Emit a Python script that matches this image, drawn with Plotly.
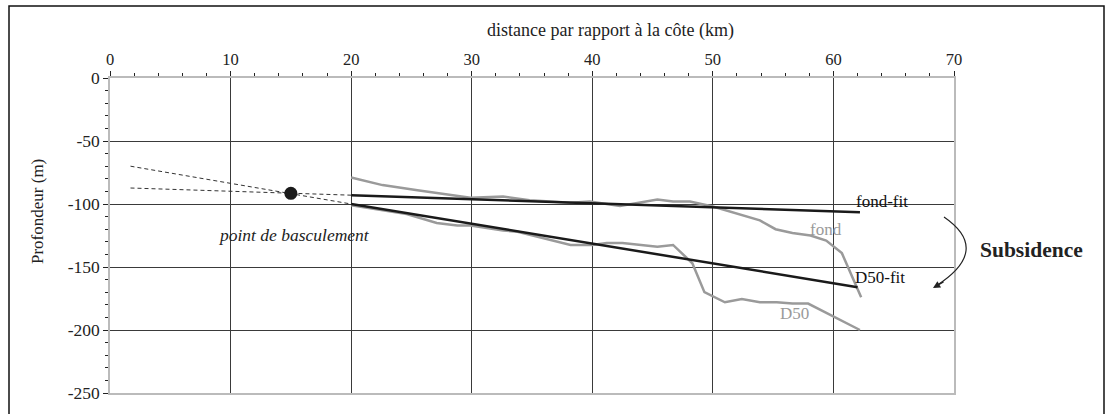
import plotly.graph_objects as go

# ---- data ----
fond_x = [20, 22.6, 25.5, 29.9, 32.6, 34.8, 38.2, 39.8, 42.3, 44, 45.4, 46.7, 48.1, 50, 53.9, 55.2, 56.6, 58.1, 59.4, 60.7, 62.3]
fond_y = [-79, -85, -89, -95, -94, -97, -99, -98, -101.5, -99, -96.5, -98, -98, -102, -113, -120, -123, -125, -129, -139, -174]

d50_x = [20, 22.6, 24.6, 27.1, 28.8, 29.9, 32.6, 33.8, 38.2, 40.0, 41.2, 42.5, 45.4, 46.7, 48.3, 49.3, 51, 52.4, 53.9, 55.3, 56.6, 57.9, 62.2]
d50_y = [-101, -105, -108, -115, -117, -117, -121, -122, -132.5, -132.5, -131, -131, -134, -132.5, -147, -170, -178, -175.5, -178, -178, -179, -179, -200]

fondfit_x = [20, 62.2]
fondfit_y = [-93, -106.6]
d50fit_x = [20, 62]
d50fit_y = [-100, -166]

dash1_x = [1.7, 20]
dash1_y = [-70, -100]
dash2_x = [1.7, 20]
dash2_y = [-87.3, -93]

pivot_x = [15]
pivot_y = [-91.5]

x_ticks = [0, 10, 20, 30, 40, 50, 60, 70]
y_ticks = [0, -50, -100, -150, -200, -250]
y_ticktext = ["0", "-50", "-100", "-150", "-200", "-250"]

FONT = "Liberation Serif"
GRAY = "#9a9a9a"
BLACK = "#1a1a1a"

fig = go.Figure()
fig.add_trace(go.Scatter(x=dash1_x, y=dash1_y, mode="lines",
                         line=dict(color="#333", width=1, dash="4px,3px"), hoverinfo="skip"))
fig.add_trace(go.Scatter(x=dash2_x, y=dash2_y, mode="lines",
                         line=dict(color="#333", width=1, dash="4px,3px"), hoverinfo="skip"))
fig.add_trace(go.Scatter(x=fond_x, y=fond_y, mode="lines", line=dict(color=GRAY, width=2.5)))
fig.add_trace(go.Scatter(x=d50_x, y=d50_y, mode="lines", line=dict(color=GRAY, width=2.5)))
fig.add_trace(go.Scatter(x=fondfit_x, y=fondfit_y, mode="lines", line=dict(color=BLACK, width=2.5)))
fig.add_trace(go.Scatter(x=d50fit_x, y=d50fit_y, mode="lines", line=dict(color=BLACK, width=2.5)))
fig.add_trace(go.Scatter(x=pivot_x, y=pivot_y, mode="markers",
                         marker=dict(color=BLACK, size=13)))

fig.update_layout(
    width=1110, height=414,
    margin=dict(l=110, r=156, t=78, b=21),
    paper_bgcolor="white", plot_bgcolor="white",
    showlegend=False,
    font=dict(family=FONT, color="#222", size=16),
)

fig.update_xaxes(
    range=[0, 70], side="top", tickvals=x_ticks,
    showgrid=True, gridcolor="#3a3a3a", gridwidth=1, zeroline=False,
    showline=True, linecolor="#bbb", linewidth=1.5, mirror=True,
    ticks="outside", ticklen=5, tickcolor="#222", tickwidth=1,
    tickfont=dict(family=FONT, size=16.5, color="#222"),
    minor=dict(tickmode="linear", tick0=0, dtick=2, ticks="outside", ticklen=3,
               tickcolor="#222", showgrid=False),
)
fig.update_yaxes(
    range=[-250, 0], tickvals=y_ticks, ticktext=y_ticktext,
    showgrid=True, gridcolor="#3a3a3a", gridwidth=1, zeroline=False,
    showline=True, linecolor="#bbb", linewidth=1.5, mirror=True,
    ticks="outside", ticklen=5, tickcolor="#222", tickwidth=1,
    tickfont=dict(family=FONT, size=17.5, color="#222"),
    minor=dict(tickmode="linear", tick0=0, dtick=10, ticks="outside", ticklen=3,
               tickcolor="#222", showgrid=False),
)


def px(xp):
    return (xp - 110) / 844


def py(yp):
    return (393 - yp) / 315


# outer frame
fig.add_shape(type="rect", xref="paper", yref="paper",
              x0=px(9), x1=px(1104), y0=py(440), y1=py(6),
              line=dict(color="#111", width=1.5), layer="below")

# axis titles
fig.add_annotation(xref="paper", yref="paper", x=px(610), y=py(30),
                   xanchor="center", yanchor="middle",
                   text="distance par rapport à la côte (km)", showarrow=False,
                   font=dict(family=FONT, size=18, color="#222"))
fig.add_annotation(xref="paper", yref="paper", x=px(37), y=py(212),
                   xanchor="center", yanchor="middle",
                   text="Profondeur (m)", textangle=-90, showarrow=False,
                   font=dict(family=FONT, size=17, color="#222"))

# labels
fig.add_annotation(x=64.0, y=-98.4, text="fond-fit", showarrow=False,
                   font=dict(family=FONT, size=17, color="#111"))
fig.add_annotation(x=59.4, y=-120, text="fond", showarrow=False,
                   font=dict(family=FONT, size=17, color=GRAY))
fig.add_annotation(x=63.9, y=-158.7, text="D50-fit", showarrow=False,
                   font=dict(family=FONT, size=17, color="#111"))
fig.add_annotation(x=56.8, y=-187, text="D50", showarrow=False,
                   font=dict(family=FONT, size=17, color=GRAY))
fig.add_annotation(x=15.3, y=-124.6, text="<i>point de basculement</i>", showarrow=False,
                   font=dict(family=FONT, size=17.5, color="#222"))
fig.add_annotation(xref="paper", yref="paper", x=px(1031), y=py(250),
                   xanchor="center", yanchor="middle",
                   text="<b>Subsidence</b>", showarrow=False,
                   font=dict(family=FONT, size=21.5, color="#222"))

# curved arrow
fig.add_shape(type="path", xref="paper", yref="paper",
              path=f"M {px(944)},{py(217)} Q {px(992)},{py(250)} {px(936)},{py(286)}",
              line=dict(color="#222", width=1.2))
fig.add_annotation(xref="paper", yref="paper", x=px(933), y=py(288),
                   ax=12, ay=-7, axref="pixel", ayref="pixel", text="",
                   showarrow=True, arrowhead=2, arrowsize=1.2, arrowwidth=1.2,
                   arrowcolor="#222")

fig.write_html(
    "out.html",
    config={"displayModeBar": False},
    post_script="document.body.style.margin='0';document.body.style.overflow='hidden';",
)
